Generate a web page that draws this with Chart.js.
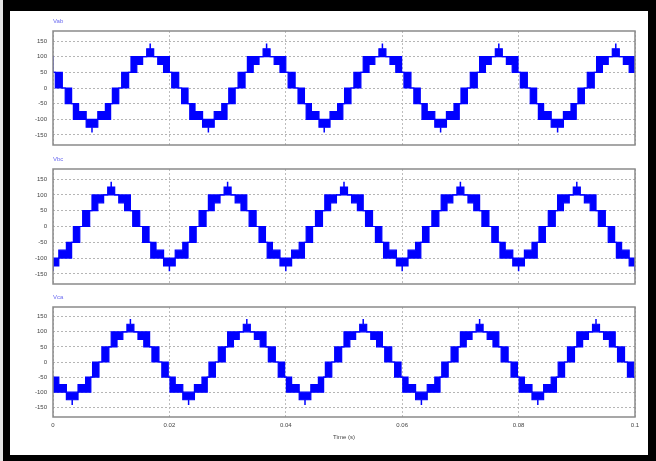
<!DOCTYPE html>
<html>
<head>
<meta charset="utf-8">
<script src="https://cdn.jsdelivr.net/npm/chart.js@4/dist/chart.umd.min.js"></script>
<style>
  html, body { margin: 0; padding: 0; width: 656px; height: 461px; overflow: hidden; background: #fff; }
  .abs { position: absolute; }
  canvas { position: absolute; left: 0; top: 0; }
</style>
</head>
<body>
<div class="abs" style="left:0;top:0;width:656px;height:461px;background:#e4e4e4"></div>
<div class="abs" style="left:3px;top:0;width:653px;height:461px;background:#000"></div>
<div class="abs" style="left:10px;top:11px;width:638px;height:444px;background:#fff"></div>
<canvas id="c0" width="656" height="461"></canvas>
<canvas id="c1" width="656" height="461"></canvas>
<canvas id="c2" width="656" height="461"></canvas>
<script>
// ---------------- data ----------------
const timeTicks = [0, 0.02, 0.04, 0.06, 0.08, 0.1];
const timeTickLabels = ['0', '0.02', '0.04', '0.06', '0.08', '0.1'];
const voltTicks = [-150, -100, -50, 0, 50, 100, 150];
const panelNames = ['Vab', 'Vbc', 'Vca'];
const xTitle = 'Time (s)';

// time (s) of each negative peak (trough) of every cycle, per panel
const vabTroughs = [-0.0133, 0.0067, 0.0267, 0.0466, 0.0666, 0.0867];
const vbcTroughs = [-0.02, 0.0, 0.02, 0.04, 0.06, 0.08, 0.1];
const vcaTroughs = [-0.0167, 0.0033, 0.0233, 0.0433, 0.0633, 0.0833];
const cyclePeriod = 0.02;

// one half cycle, trough -> peak: steps (ms after trough) and switching band (V)
const stepStartMs = [0,    1.0,  2.3,  3.2, 3.5, 4.6, 5.1, 6.3, 6.7, 7.7, 8.7, 9.4];
const stepEndMs   = [1.0,  2.3,  3.2,  3.5, 4.6, 5.1, 6.3, 6.7, 7.7, 8.7, 9.4, 10];
const stepLow     = [-125, -100, -100, -50, -50, 0,   0,   50,  50,  75,  100, 100];
const stepHigh    = [-100, -75,  -50,  -50, 0,   0,   50,  50,  100, 100, 100, 125];
const spikePeak = 142;
const spikeTrough = -142;

// ---------------- build the series ----------------
function buildEnvelope(troughs) {
  const upper = [], lower = [];
  troughs.forEach(T => {
    for (let i = 0; i < stepStartMs.length; i++) {
      const a = T + stepStartMs[i] / 1000, b = T + stepEndMs[i] / 1000;
      upper.push({x: a, y: stepHigh[i]}, {x: b, y: stepHigh[i]});
      lower.push({x: a, y: stepLow[i]}, {x: b, y: stepLow[i]});
    }
    for (let i = stepStartMs.length - 1; i >= 0; i--) {
      const a = T + cyclePeriod - stepEndMs[i] / 1000, b = T + cyclePeriod - stepStartMs[i] / 1000;
      upper.push({x: a, y: stepHigh[i]}, {x: b, y: stepHigh[i]});
      lower.push({x: a, y: stepLow[i]}, {x: b, y: stepLow[i]});
    }
  });
  return {upper, lower};
}
function buildSpikes(troughs) {
  const pts = [];
  const last = stepHigh.length - 1;
  troughs.forEach(T => {
    pts.push({x: T, y: stepLow[0]}, {x: T, y: spikeTrough}, {x: T, y: null});
    const P = T + cyclePeriod / 2;
    pts.push({x: P, y: stepHigh[last]}, {x: P, y: spikePeak}, {x: P, y: null});
  });
  return pts;
}

// ---------------- layout / styles ----------------
const BLUE = '#0000ff';
const FONT = '"Liberation Sans", Arial, sans-serif';
const plotLeft = 53, plotRight = 635;
const panelTop = [31, 169, 307];
const panelBottom = [145, 284, 417];
const xAxisH = [0, 0, 24];

const framePlugin = {
  id: 'frame',
  afterDatasetsDraw(chart, args, opts) {
    const {ctx, chartArea: a} = chart;
    ctx.save();
    ctx.strokeStyle = '#8a8a8a';
    ctx.lineWidth = 1.5;
    ctx.strokeRect(a.left, a.top, a.right - a.left, a.bottom - a.top);
    ctx.fillStyle = '#6a6af0';
    ctx.font = '6px ' + FONT;
    ctx.textBaseline = 'middle';
    ctx.textAlign = 'left';
    ctx.fillText(opts.label, a.left, a.top - 9.5);
    ctx.restore();
  }
};

function makeChart(idx, troughs) {
  const env = buildEnvelope(troughs);
  const spikes = buildSpikes(troughs);
  const showX = idx === 2;
  new Chart(document.getElementById('c' + idx), {
    type: 'line',
    data: {
      datasets: [
        {data: env.upper, borderColor: BLUE, backgroundColor: BLUE, borderWidth: 1.2, pointRadius: 0, fill: '+1', tension: 0},
        {data: env.lower, borderColor: BLUE, backgroundColor: BLUE, borderWidth: 1.2, pointRadius: 0, fill: false, tension: 0},
        {data: spikes, borderColor: BLUE, borderWidth: 1.5, pointRadius: 0, fill: false, spanGaps: false}
      ]
    },
    options: {
      responsive: false,
      animation: false,
      events: [],
      devicePixelRatio: 1,
      layout: {padding: {left: 10, right: 656 - plotRight, top: panelTop[idx], bottom: 461 - panelBottom[idx] - xAxisH[idx]}},
      plugins: {legend: {display: false}, tooltip: {enabled: false}, frame: {label: panelNames[idx]}},
      scales: {
        x: {
          type: 'linear', min: 0, max: 0.1,
          afterBuildTicks: s => { s.ticks = timeTicks.map(v => ({value: v})); },
          afterFit: s => { s.height = xAxisH[idx]; },
          grid: {color: '#bdbdbd', lineWidth: 1, drawTicks: false},
          border: {display: false, dash: [2, 2]},
          ticks: {display: showX, autoSkip: false, maxRotation: 0, padding: 5, color: '#444',
                  font: {size: 6, family: FONT},
                  callback: v => timeTickLabels[timeTicks.indexOf(v)]},
          title: {display: showX, text: xTitle, color: '#444', font: {size: 6, family: FONT}, padding: 0}
        },
        y: {
          type: 'linear', min: -182, max: 182,
          afterBuildTicks: s => { s.ticks = voltTicks.map(v => ({value: v})); },
          afterFit: s => { s.width = plotLeft - 10; },
          grid: {color: '#b5b5b5', lineWidth: 1, drawTicks: false},
          border: {display: false, dash: [2, 2]},
          ticks: {padding: 6, color: '#444', font: {size: 6, family: FONT}, callback: v => String(v)}
        }
      }
    },
    plugins: [framePlugin]
  });
}

makeChart(0, vabTroughs);
makeChart(1, vbcTroughs);
makeChart(2, vcaTroughs);
</script>
</body>
</html>
